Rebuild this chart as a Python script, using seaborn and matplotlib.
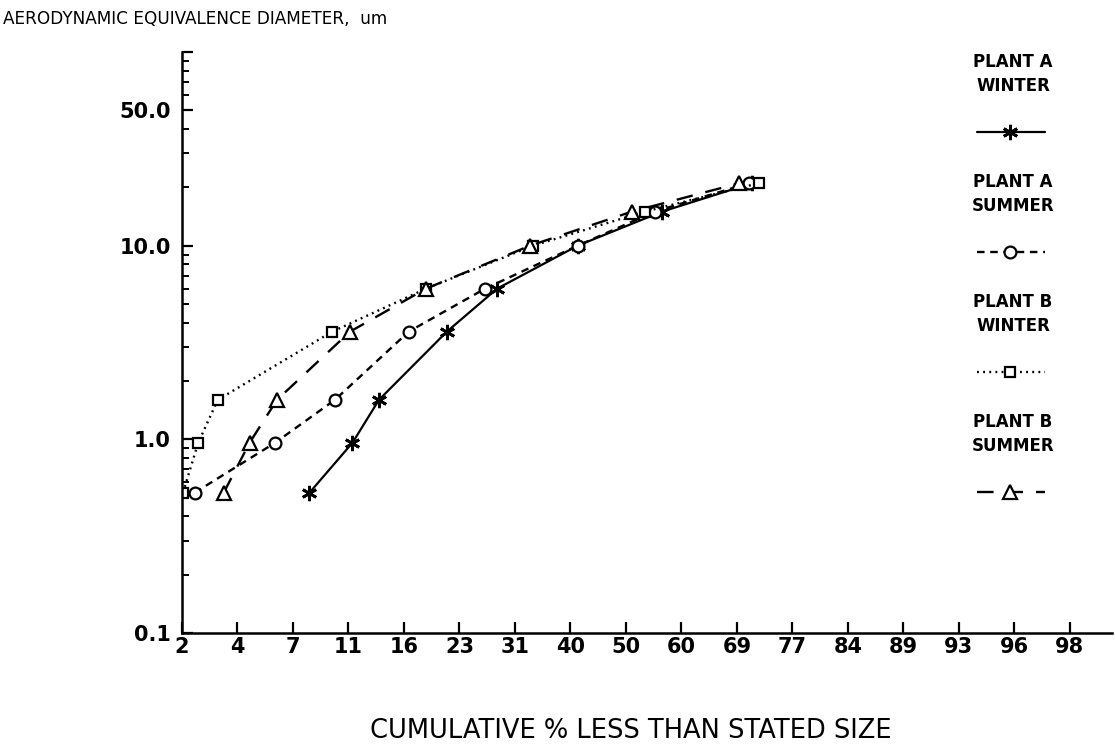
import math
import numpy as np
import pandas as pd
import matplotlib
matplotlib.use("Agg")
import matplotlib.pyplot as plt
import seaborn as sns
from matplotlib.lines import Line2D
from matplotlib.ticker import FixedLocator, NullFormatter

# ---------------- data ----------------
diameter_um = [0.53, 0.96, 1.6, 3.6, 6.0, 10.0, 15.0, 21.0]
plant_a_winter = [7.7, 10.9, 13.3, 21.0, 28.1, 41.4, 56.5, 71.5]
plant_a_summer = [2.6, 5.7, 9.5, 16.4, 26.3, 41.4, 55.2, 71.0]
plant_b_winter = [2.3, 2.7, 3.3, 9.3, 18.4, 33.8, 53.4, 72.5]
plant_b_summer = [3.5, 4.5, 5.8, 10.7, 18.4, 33.3, 51.1, 69.5]

series_names = ["PLANT A\nWINTER", "PLANT A\nSUMMER", "PLANT B\nWINTER", "PLANT B\nSUMMER"]
series_values = [plant_a_winter, plant_a_summer, plant_b_winter, plant_b_summer]

x_tick_labels = ["2", "4", "7", "11", "16", "23", "31", "40", "50", "60",
                 "69", "77", "84", "89", "93", "96", "98"]
x_tick_z = list(np.arange(-2.0, 2.01, 0.25))
y_tick_values = [0.1, 1.0, 10.0, 50.0, 100.0]
y_tick_labels = ["0.1", "1.0", "10.0", "50.0", ""]

# ---------------- probability scale helpers ----------------
_erf = np.vectorize(math.erf, otypes=[float])


def norm_cdf_pct(z):
    z = np.asarray(z, dtype=float)
    if z.size == 0:
        return z
    return 50.0 * (1.0 + _erf(z / math.sqrt(2.0)))


def norm_ppf_pct(p):
    p = np.asarray(p, dtype=float)
    if p.size == 0:
        return p
    p = np.clip(p, 1e-7, 100 - 1e-7)
    lo = np.full(p.shape, -8.0)
    hi = np.full(p.shape, 8.0)
    for _ in range(60):
        mid = 0.5 * (lo + hi)
        c = norm_cdf_pct(mid)
        below = c < p
        lo = np.where(below, mid, lo)
        hi = np.where(below, hi, mid)
    return 0.5 * (lo + hi)


# ---------------- styling ----------------
sns.set_theme(style="ticks")
plt.rcParams["font.family"] = ["DejaVu Sans"]

fig = plt.figure(figsize=(11.15, 7.47), dpi=100)
ax = fig.add_axes([0.1632, 0.1526, 0.8341, 0.7778])

styles = [
    dict(linestyle="-", marker=(6, 2, 0), markersize=11, markeredgewidth=2.0,
         markerfacecolor="black", linewidth=1.6),
    dict(linestyle=(0, (3.2, 2.4)), marker="o", markersize=8.5, markeredgewidth=1.6,
         markerfacecolor="white", linewidth=1.7),
    dict(linestyle=(0, (0.8, 1.8)), marker="s", markersize=7.5, markeredgewidth=1.6,
         markerfacecolor="white", linewidth=1.7),
    dict(linestyle=(0, (7, 5.5)), marker="^", markersize=9.5, markeredgewidth=1.6,
         markerfacecolor="white", linewidth=1.7),
]

for name, vals, st in zip(series_names, series_values, styles):
    df = pd.DataFrame({"pct": vals, "diam": diameter_um})
    sns.lineplot(data=df, x="pct", y="diam", ax=ax, color="black",
                 markeredgecolor="black", estimator=None, sort=False,
                 legend=False, **st)

ax.set_xscale("function", functions=(norm_ppf_pct, norm_cdf_pct))
ax.set_yscale("log")
ax.set_xlim(float(norm_cdf_pct(-2.0)), float(norm_cdf_pct(2.19)))
ax.set_ylim(0.1, 100)

ax.xaxis.set_major_locator(FixedLocator(list(norm_cdf_pct(x_tick_z))))
ax.set_xticklabels(x_tick_labels)
ax.xaxis.set_minor_locator(FixedLocator([]))

ax.yaxis.set_major_locator(FixedLocator(y_tick_values))
ax.set_yticklabels(y_tick_labels)
minor_y = [m * d for d in (0.1, 1.0, 10.0) for m in range(2, 10) if m * d != 50.0]
ax.yaxis.set_minor_locator(FixedLocator(minor_y))
ax.yaxis.set_minor_formatter(NullFormatter())

ax.set_xlabel("")
ax.set_ylabel("")
for s in ("top", "right"):
    ax.spines[s].set_visible(False)
for s in ("left", "bottom"):
    ax.spines[s].set_linewidth(1.8)
    ax.spines[s].set_color("black")

ax.tick_params(axis="both", which="major", direction="in", length=8, width=1.6,
               colors="black", labelsize=15)
ax.tick_params(axis="y", which="minor", direction="in", length=5, width=1.4,
               colors="black")
ax.tick_params(axis="x", which="major", pad=3)
ax.tick_params(axis="y", which="major", pad=8)
for lab in ax.get_xticklabels() + ax.get_yticklabels():
    lab.set_fontweight("bold")

# axis titles
fig.text(0.003, 0.975, "AERODYNAMIC EQUIVALENCE DIAMETER,  um", ha="left",
         va="center", fontsize=12.2, color="black")
fig.text(0.566, 0.021, "CUMULATIVE % LESS THAN STATED SIZE", ha="center",
         va="center", fontsize=18.5, color="black")

# legend (label above its line sample)
W, H = 1115.0, 747.0
line_y = [132, 252, 372, 492]
for name, st, ly in zip(series_names, styles, line_y):
    fig.text(1013 / W, 1 - (ly - 58) / H, name, ha="center", va="center",
             fontsize=12, fontweight="bold", color="black", linespacing=1.45)
    ln = Line2D([977 / W, 1045 / W], [1 - ly / H, 1 - ly / H],
                transform=fig.transFigure, color="black",
                linestyle=st["linestyle"], linewidth=st["linewidth"])
    fig.add_artist(ln)
    mk = Line2D([1010 / W], [1 - ly / H], transform=fig.transFigure,
                color="black", linestyle="none", marker=st["marker"],
                markersize=st["markersize"], markeredgewidth=st["markeredgewidth"],
                markerfacecolor=st["markerfacecolor"], markeredgecolor="black")
    fig.add_artist(mk)

fig.savefig("out.png", dpi=100, facecolor="white")
